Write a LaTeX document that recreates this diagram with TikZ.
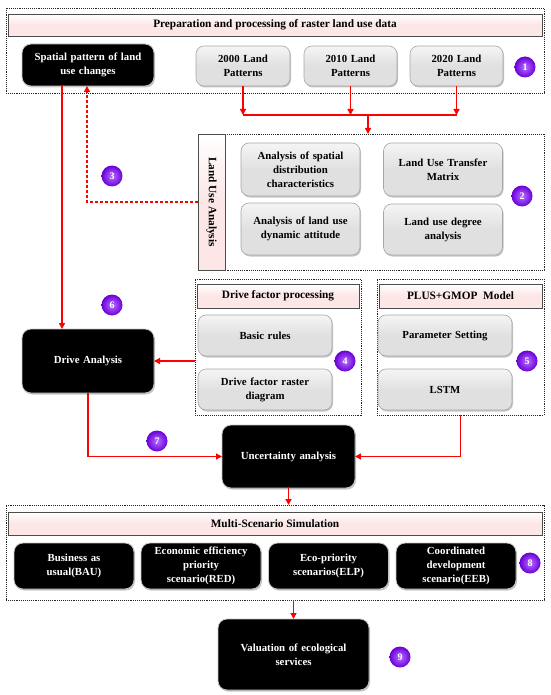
\documentclass[tikz,border=0pt]{standalone}
\usepackage{fontspec}
\setmainfont{Liberation Serif}
\usetikzlibrary{shadows,calc,arrows.meta}
\definecolor{pinkbar}{RGB}{252,230,230}
\definecolor{grayfill}{RGB}{224,224,224}
\definecolor{ballin}{RGB}{185,110,255}
\definecolor{ballout}{RGB}{105,0,215}
\begin{document}
\begin{tikzpicture}[x=1pt,y=-1pt,
  font=\fontsize{10.8}{14}\selectfont\bfseries,
  dotbox/.style={draw=black!85, densely dotted, line width=0.9pt, inner sep=0pt, outer sep=0pt},
  hdr/.style={draw=black!70, line width=0.9pt, top color=white, bottom color=pinkbar, middle color=pinkbar, inner sep=0pt, outer sep=0pt, font=\fontsize{11.3}{14}\selectfont\bfseries},
  graybox/.style={draw=gray!70, line width=0.6pt, top color=gray!8, bottom color=grayfill, middle color=grayfill, rounded corners=8pt, align=center, inner sep=2pt, outer sep=0pt, drop shadow={opacity=0.45, shadow xshift=1pt, shadow yshift=-1.5pt}},
  blackbox/.style={draw=gray!45, line width=0.8pt, fill=black, text=white, rounded corners=9pt, align=center, inner sep=2pt, outer sep=0pt, drop shadow={opacity=0.45, shadow xshift=1pt, shadow yshift=-1.5pt}},
  num/.style={circle, inner color=ballin, outer color=ballout, text=white, minimum size=21pt, inner sep=0pt, font=\fontsize{10}{10}\selectfont\bfseries},
  redarrow/.style={draw=red, line width=1.4pt, -{Triangle[length=6pt,width=6pt]}},
  redline/.style={draw=red, line width=1.4pt}
]
\useasboundingbox (0,0) rectangle (550,695);

% ---------- top block ----------
\node[dotbox, minimum width=538pt, minimum height=85pt] (top) at (275,50.5) {};
\node[hdr, minimum width=534pt, minimum height=22pt] (h1) at (275,25) {Preparation and processing of raster land use data};
\node[blackbox, minimum width=132pt, minimum height=42pt, text width=128pt] (sp) at (88,65) {Spatial pattern of land\\use changes};
\node[graybox, minimum width=94pt, minimum height=40pt, text width=88pt] (g1) at (243,66) {2000 Land\\Patterns};
\node[graybox, minimum width=93pt, minimum height=40pt, text width=88pt] (g2) at (350.5,66) {2010 Land\\Patterns};
\node[graybox, minimum width=93pt, minimum height=40pt, text width=88pt] (g3) at (456.5,66) {2020 Land\\Patterns};
\node[num] (n1) at (525,67) {1};

\coordinate (b1) at (243,115);
\coordinate (b2) at (350.5,115);
\coordinate (b3) at (456.5,115);
\coordinate (bm) at (368,115);

% ---------- land use analysis ----------
\node[dotbox, minimum width=346pt, minimum height=136pt] (lua) at (371,202) {};
\node[hdr, minimum width=27pt, minimum height=136pt] (luabar) at (211.5,202) {};
\node[rotate=-90, font=\fontsize{11.3}{14}\selectfont\bfseries] (luat) at (211.5,202) {Land Use Analysis};
\node[graybox, minimum width=119pt, minimum height=53pt, text width=115pt] (a1) at (300.5,169.5) {Analysis of spatial\\distribution\\characteristics};
\node[graybox, minimum width=118pt, minimum height=53pt, text width=115pt] (a2) at (443,169.5) {Land Use Transfer\\Matrix};
\node[graybox, minimum width=119pt, minimum height=52pt, text width=115pt] (a3) at (300.5,229) {Analysis of land use\\dynamic attitude};
\node[graybox, minimum width=118pt, minimum height=51pt, text width=115pt] (a4) at (443,229.5) {Land use degree\\analysis};
\node[num] (n2) at (522,196) {2};
\node[num] (n3) at (112,176) {3};
\coordinate (dc) at (87,202);

% ---------- drive factor processing ----------
\node[dotbox, minimum width=166pt, minimum height=136pt] (df) at (278,347) {};
\node[hdr, minimum width=162pt, minimum height=24pt] (h4) at (278,296) {Drive factor processing};
\node[graybox, minimum width=134pt, minimum height=41pt, text width=128pt] (d1) at (265,335.5) {Basic rules};
\node[graybox, minimum width=134pt, minimum height=41pt, text width=128pt] (d2) at (265,389.5) {Drive factor raster\\diagram};
\node[num] (n4) at (345,361) {4};

% ---------- PLUS+GMOP ----------
\node[dotbox, minimum width=167pt, minimum height=136pt] (plus) at (460.5,347) {};
\node[hdr, minimum width=163pt, minimum height=24pt] (h5) at (460.5,296) {PLUS+GMOP\ \ Model};
\node[graybox, minimum width=134pt, minimum height=41pt, text width=128pt] (p1) at (445,335.5) {Parameter Setting};
\node[graybox, minimum width=134pt, minimum height=41pt, text width=128pt] (p2) at (445,389.5) {LSTM};
\node[num] (n5) at (527,361) {5};

% ---------- drive analysis / uncertainty ----------
\node[blackbox, minimum width=132pt, minimum height=64pt, text width=126pt] (da) at (88,361) {Drive Analysis};
\node[num] (n6) at (112,305) {6};
\node[blackbox, minimum width=133pt, minimum height=63pt, text width=126pt] (ua) at (288.5,456.5) {Uncertainty analysis};
\node[num] (n7) at (157,441) {7};

% ---------- multi-scenario ----------
\node[dotbox, minimum width=538pt, minimum height=95pt] (ms) at (275,552.5) {};
\node[hdr, minimum width=534pt, minimum height=23pt] (h8) at (275,523.5) {Multi-Scenario Simulation};
\node[blackbox, minimum width=118pt, minimum height=46pt, text width=116pt] (s1) at (74,566) {Business as\\usual(BAU)};
\node[blackbox, minimum width=118pt, minimum height=46pt, text width=116pt] (s2) at (201,566) {Economic efficiency\\priority\\scenario(RED)};
\node[blackbox, minimum width=119pt, minimum height=46pt, text width=116pt] (s3) at (328.5,566) {Eco-priority\\scenarios(ELP)};
\node[blackbox, minimum width=120pt, minimum height=46pt, text width=116pt] (s4) at (456,566) {Coordinated\\development\\scenario(EEB)};
\node[num] (n8) at (530,563) {8};

% ---------- valuation ----------
\node[blackbox, minimum width=151pt, minimum height=71pt, text width=140pt] (val) at (293.5,654.5) {Valuation of ecological\\services};
\node[num] (n9) at (400,657) {9};

% ---------- connectors ----------
\draw[redarrow] (g1.south) -- (b1);
\draw[redarrow] (g2.south) -- (b2);
\draw[redarrow] (g3.south) -- (b3);
\draw[redline] (b1) -- (b3);
\draw[redarrow] (bm) -- (bm |- lua.north);
\draw[redarrow, dashed, dash pattern=on 3pt off 2pt] (lua.west) -- (dc) -- (dc |- sp.south);
\draw[redarrow] ($(sp.south west)+(40,0)$) -- ($(da.north west)+(40,0)$);
\draw[redarrow] (df.west |- da.east) -- (da.east);
\draw[redarrow] (da.south) |- (ua.west);
\draw[redarrow] (plus.south) |- (ua.east);
\draw[redarrow] (ua.south) -- (ua.south |- ms.north);
\draw[redarrow] (ms.south -| val.north) -- (val.north);
\end{tikzpicture}
\end{document}
